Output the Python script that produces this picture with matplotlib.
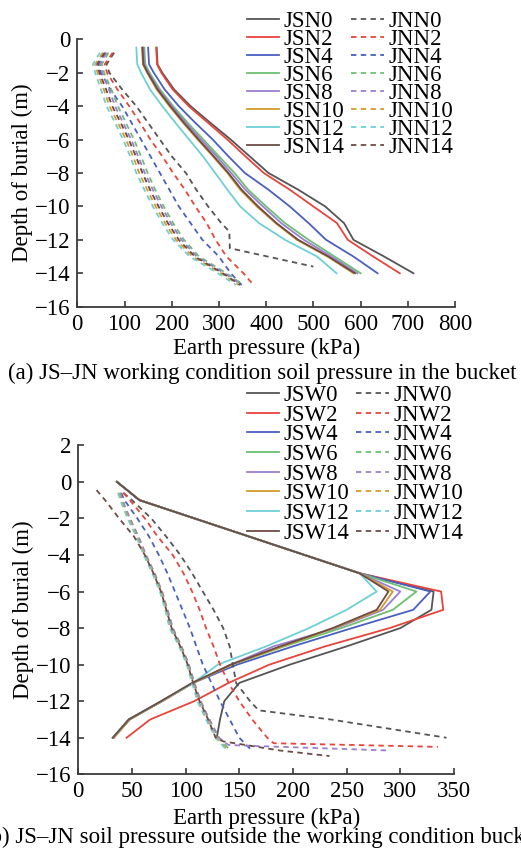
import matplotlib
matplotlib.use("Agg")
import matplotlib.pyplot as plt

plt.rcParams['font.family'] = ['Liberation Serif', 'DejaVu Serif']
plt.rcParams['font.size'] = 16.5

# ---- colours of the 8 working conditions (0, 2, ..., 14)
steps = [0, 2, 4, 6, 8, 10, 12, 14]
colors = ['#555555', '#e8443a', '#4a5fc1', '#6cbf73', '#9b7fd0', '#d49b2a', '#6dd0d6', '#6e4b44']

# ---- (a) soil pressure in the bucket
depth_jsn = [-0.5, -1.5, -2, -3, -4, -5, -6, -7, -8, -9, -10, -11, -12, -13, -14]
jsn0 = [168, 170, 180, 205, 240, 282, 325, 365, 405, 468, 525, 565, 585, 650, 712]
jsn2 = [167, 169, 178, 202, 236, 277, 318, 356, 395, 450, 500, 550, 573, 627, 683]
jsn4 = [150, 152, 162, 185, 215, 250, 287, 320, 355, 405, 450, 490, 527, 585, 636]
jsn6 = [142, 144, 153, 175, 203, 234, 267, 300, 333, 362, 400, 440, 490, 545, 600]
jsn8 = [140, 142, 151, 172, 200, 230, 262, 295, 326, 356, 393, 432, 480, 538, 593]
jsn10 = [137, 139, 148, 168, 195, 224, 255, 287, 318, 345, 380, 420, 465, 530, 585]
jsn12 = [125, 127, 135, 154, 180, 208, 237, 266, 292, 318, 345, 385, 440, 508, 549]
jsn14 = [138, 140, 149, 170, 197, 226, 257, 289, 320, 348, 383, 422, 468, 532, 588]

depth_jnn0 = [-0.8, -1.5, -2, -3, -4, -5, -6, -7, -8, -9, -10, -11, -11.5, -12.5, -13.6]
jnn0 = [78, 62, 68, 95, 125, 150, 175, 200, 230, 252, 277, 305, 322, 323, 500]
depth_jnn = [-0.8, -1.5, -2, -3, -4, -5, -6, -7, -8, -9, -10, -11, -12, -13, -14, -14.7]
jnn2 = [75, 58, 63, 85, 110, 133, 155, 180, 203, 228, 250, 274, 293, 316, 352, 373]
jnn4 = [60, 45, 50, 70, 95, 115, 135, 155, 175, 195, 215, 240, 265, 300, 325, 348]
jnn6 = [66, 52, 57, 72, 86, 103, 120, 135, 149, 165, 183, 203, 226, 258, 316, 352]
jnn8 = [62, 48, 53, 67, 80, 97, 114, 129, 143, 160, 178, 198, 221, 253, 312, 348]
jnn10 = [54, 38, 43, 56, 68, 86, 103, 118, 131, 148, 166, 186, 209, 244, 305, 342]
jnn12 = [48, 33, 38, 50, 62, 80, 97, 112, 125, 142, 160, 180, 203, 238, 298, 336]
jnn14 = [58, 42, 47, 61, 74, 92, 109, 124, 138, 154, 172, 192, 215, 249, 308, 345]

# ---- (b) soil pressure outside the bucket
depth_jsw = [0, -1, -5, -6, -7, -8, -9, -10, -11, -12, -13, -14]
jsw0 = [36, 57, 262, 331, 329, 300, 250, 197, 150, 136, 132, 129]
jsw2 = [36, 57, 262, 338, 340, 290, 230, 178, 140, 108, 67, 45]
jsw4 = [36, 57, 262, 328, 312, 255, 200, 148, 107, 78, 48, 33]
jsw6 = [36, 57, 262, 315, 293, 245, 192, 143, 107, 78, 47, 33]
jsw8 = [36, 57, 262, 300, 284, 240, 182, 142, 107, 78, 47, 33]
jsw10 = [36, 57, 262, 293, 281, 238, 190, 143, 107, 78, 48, 33]
jsw12 = [36, 57, 262, 278, 250, 215, 175, 130, 107, 77, 47, 32]
jsw14 = [36, 57, 262, 289, 278, 237, 188, 142, 106, 77, 47, 32]

depth_jnw0 = [-0.6, -1, -2, -3, -4, -5, -6, -7, -8, -9, -10, -11, -12, -12.5, -13, -14]
jnw0 = [42, 50, 68, 82, 95, 106, 116, 126, 135, 141, 144, 147, 160, 168, 235, 343]
depth_jnw2 = [-0.6, -1, -2, -3, -4, -5, -6, -7, -8, -9, -10, -11, -12, -13, -14, -14.3, -14.5]
jnw2 = [42, 48, 62, 74, 88, 98, 106, 113, 119, 126, 132, 140, 150, 162, 176, 182, 335]
depth_jnw = [-0.6, -1, -2, -3, -4, -5, -6, -7, -8, -9, -10, -11, -12, -13, -14, -14.6]
jnw4 = [40, 43, 55, 66, 75, 83, 90, 97, 104, 110, 116, 124, 132, 141, 150, 160]
jnw6 = [39, 41, 48, 56, 63, 71, 78, 83, 88, 96, 103, 108, 114, 122, 131, 140]
jnw10 = [38, 40, 47, 55, 62, 70, 77, 82, 86, 95, 102, 107, 112, 120, 129, 138]
jnw12 = [37, 39, 46, 54, 61, 69, 76, 81, 85, 94, 101, 106, 111, 119, 128, 137]
depth_jnw8 = [-0.6, -1, -2, -3, -4, -5, -6, -7, -8, -9, -10, -11, -12, -13, -14, -14.4, -14.7]
jnw8 = [39, 41, 48, 56, 63, 71, 78, 83, 88, 96, 103, 108, 114, 122, 131, 140, 290]
depth_jnw14 = [-0.45, -1, -2, -3, -4, -5, -6, -7, -8, -9, -10, -11, -12, -13, -14, -14.2, -14.7, -15]
jnw14 = [17, 25, 38, 52, 62, 70, 77, 82, 87, 95, 102, 107, 113, 121, 128, 135, 188, 234]

jsn = [jsn0, jsn2, jsn4, jsn6, jsn8, jsn10, jsn12, jsn14]
jnn = [(depth_jnn0, jnn0), (depth_jnn, jnn2), (depth_jnn, jnn4), (depth_jnn, jnn6),
       (depth_jnn, jnn8), (depth_jnn, jnn10), (depth_jnn, jnn12), (depth_jnn, jnn14)]
jsw = [jsw0, jsw2, jsw4, jsw6, jsw8, jsw10, jsw12, jsw14]
jnw = [(depth_jnw0, jnw0), (depth_jnw2, jnw2), (depth_jnw, jnw4), (depth_jnw, jnw6),
       (depth_jnw8, jnw8), (depth_jnw, jnw10), (depth_jnw, jnw12), (depth_jnw14, jnw14)]

W, H = 521, 857
fig = plt.figure(figsize=(W / 100, H / 100), dpi=100)
ax1 = fig.add_axes([77.3 / W, 1 - 306.7 / H, (455 - 77.3) / W, (306.7 - 39.3) / H])
ax2 = fig.add_axes([78.3 / W, 1 - 774.3 / H, (454 - 78.3) / W, (774.3 - 445.3) / H])

dash = (0, (3.0, 2.4))


def style(ax, xpad):
    for s in ['top', 'right']:
        ax.spines[s].set_visible(False)
    for s in ['left', 'bottom']:
        ax.spines[s].set_color('#3a3a3a')
        ax.spines[s].set_linewidth(1.3)
    ax.tick_params(direction='in', length=4, width=1.2, color='#3a3a3a', pad=5, labelsize=16.5)
    ax.set_xlabel('Earth pressure (kPa)', fontsize=16.5, labelpad=xpad)
    ax.set_ylabel('Depth of burial (m)', fontsize=16.5, labelpad=1)


leg_kw = dict(ncol=2, loc='upper left', bbox_transform=fig.transFigure, frameon=False,
              fontsize=16.5, handlelength=1.4, handletextpad=0.2, columnspacing=0.3,
              borderpad=0, borderaxespad=0)

# (a)
for k, vals in enumerate(jsn):
    ax1.plot(vals, depth_jsn, color=colors[k], lw=1.3, label='JSN%d' % steps[k])
for k, (d, vals) in enumerate(jnn):
    ax1.plot(vals, d, color=colors[k], lw=1.3, ls=dash, label='JNN%d' % steps[k])
ax1.set_xlim(0, 800)
ax1.set_ylim(-16, 0)
ax1.set_xticks(range(0, 801, 100))
ax1.set_yticks(range(-16, 1, 2))
style(ax1, 2)
ax1.legend(bbox_to_anchor=(247 / W, 1 - 11 / H), labelspacing=-0.135, **leg_kw)

# (b)
for k, vals in enumerate(jsw):
    ax2.plot(vals, depth_jsw, color=colors[k], lw=1.3, label='JSW%d' % steps[k])
for k, (d, vals) in enumerate(jnw):
    ax2.plot(vals, d, color=colors[k], lw=1.3, ls=dash, label='JNW%d' % steps[k])
ax2.set_xlim(0, 350)
ax2.set_ylim(-16, 2)
ax2.set_xticks(range(0, 351, 50))
ax2.set_yticks(range(-16, 3, 2))
style(ax2, 4)
ax2.legend(bbox_to_anchor=(247 / W, 1 - 385 / H), labelspacing=-0.06, **leg_kw)

fig.text(262 / W, 1 - 373 / H, '(a) JS\u2013JN working condition soil pressure in the bucket',
         ha='center', va='center', fontsize=16.5)
fig.text(262 / W, 1 - 837 / H, '(b) JS\u2013JN soil pressure outside the working condition bucket',
         ha='center', va='center', fontsize=16.5)

fig.savefig('out.png', dpi=100)
